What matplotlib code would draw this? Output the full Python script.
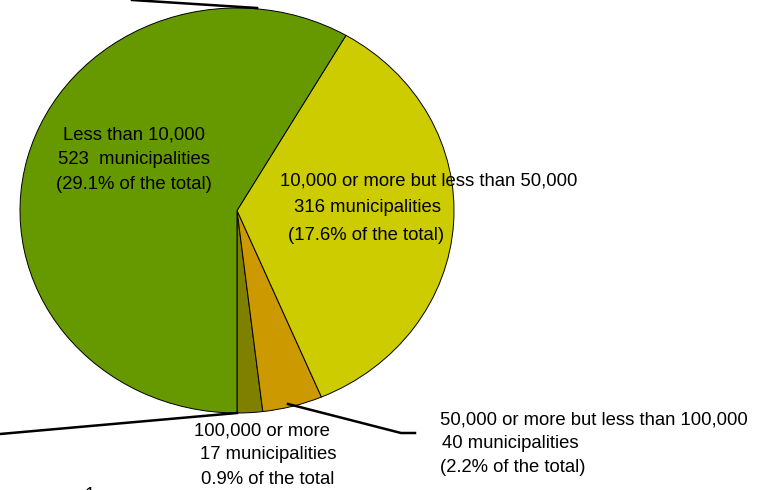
import matplotlib
matplotlib.use("Agg")
import matplotlib.pyplot as plt
from matplotlib.lines import Line2D

plt.rcParams['font.family'] = ['Liberation Sans', 'DejaVu Sans']

# Data (counterclockwise from bottom)
categories = ["100,000 or more", "50,000 or more but less than 100,000",
              "10,000 or more but less than 50,000", "Less than 10,000"]
counts = [17, 40, 316, 523]
shares = ["0.9", "2.2", "17.6", "29.1"]
colors = ["#808000", "#CC9900", "#CCCC00", "#669900"]

W, H = 765, 490
fig = plt.figure(figsize=(W / 100, H / 100), dpi=100)

# pie bounds in pixels
px0, px1, py0, py1 = 20, 454, 8, 413
ax = fig.add_axes([px0 / W, 1 - py1 / H, (px1 - px0) / W, (py1 - py0) / H])
ax.pie(counts, colors=colors, startangle=270, counterclock=True, radius=1,
       wedgeprops=dict(edgecolor="black", linewidth=0.7))
ax.set_aspect('auto')
ax.set_xlim(-1, 1)
ax.set_ylim(-1, 1)
ax.axis('off')

def P(x, y):
    return (x / W, 1 - y / H)

# leader lines (figure pixel coords)
def line(pts, lw=1.8):
    xs = [p[0] / W for p in pts]
    ys = [1 - p[1] / H for p in pts]
    fig.add_artist(Line2D(xs, ys, color="black", linewidth=lw, zorder=0.5))

line([(132, 0), (257, 8)])
line([(0, 434), (237, 413)])
line([(288, 404), (401, 433), (415, 433)])

fs = 13.3
# Less than 10,000
fig.text(*P(134, 135), categories[3], ha="center", va="center", fontsize=fs)
fig.text(*P(134, 159), f"{counts[3]}  municipalities", ha="center", va="center", fontsize=fs)
fig.text(*P(134, 184), f"({shares[3]}% of the total)", ha="center", va="center", fontsize=fs)

# 10,000 - 50,000
fig.text(*P(429, 181), categories[2], ha="center", va="center", fontsize=fs)
fig.text(*P(367, 208), f"{counts[2]} municipalities", ha="center", va="center", fontsize=fs)
fig.text(*P(366, 235), f"({shares[2]}% of the total)", ha="center", va="center", fontsize=fs)

# 100,000 or more
fig.text(*P(262, 431), categories[0], ha="center", va="center", fontsize=fs)
fig.text(*P(268, 454), f"{counts[0]} municipalities", ha="center", va="center", fontsize=fs)
fig.text(*P(268, 479), f"{shares[0]}% of the total", ha="center", va="center", fontsize=fs)

# 50,000 - 100,000
fig.text(*P(440, 420), categories[1], ha="left", va="center", fontsize=fs)
fig.text(*P(442, 443), f"{counts[1]} municipalities", ha="left", va="center", fontsize=fs)
fig.text(*P(440, 467), f"({shares[1]}% of the total)", ha="left", va="center", fontsize=fs)

# partially visible glyph at bottom edge
fig.text(*P(90, 495), "1", ha="center", va="center", fontsize=fs)

fig.savefig("out.png", dpi=100)
